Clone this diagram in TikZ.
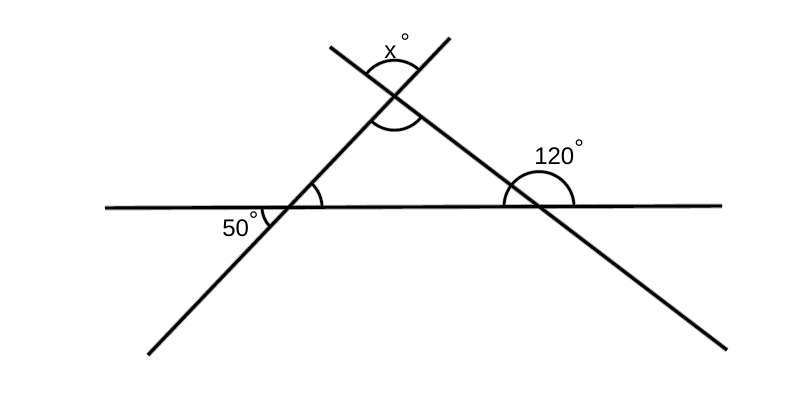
\documentclass[tikz,border=0pt]{standalone}
\usepackage{fontspec}
\setmainfont{Liberation Sans}
\newcommand{\degmark}{\raisebox{6pt}{\fontsize{18pt}{19pt}\selectfont °}}
\begin{document}
\begin{tikzpicture}[x=0.75pt,y=0.75pt,
  mainline/.style={line width=2.2pt,black},
  shadowline/.style={line width=3.6pt,black!38,shift={(2.5,-2.5)}},
  anglearc/.style={line width=1.9pt,black},
  shadowarc/.style={line width=2.8pt,black!30,shift={(2,-2)}},
  lbl/.style={inner sep=0pt,anchor=base west,font=\fontsize{18pt}{19pt}\selectfont}]
\useasboundingbox (0,0) rectangle (800,400);
\fill[white] (0,0) rectangle (800,400);
% end points
\coordinate (h1) at (105,192);
\coordinate (h2) at (722,194);
\coordinate (a1) at (148,45);
\coordinate (a2) at (450,362);
\coordinate (b1) at (330,353);
\coordinate (b2) at (727,50);
% intersections
\coordinate (T) at (394.5,303.8);
\coordinate (P) at (289,192.6);
\coordinate (Q) at (539,193.4);
% shadows
\draw[shadowline] (h1) -- (h2);
\draw[shadowline] (a1) -- (a2);
\draw[shadowline] (b1) -- (b2);
\draw[shadowarc] ([shift={(46.4:36)}]T) arc[start angle=46.4,end angle=142.65,radius=36];
\draw[shadowarc] ([shift={(226.4:34)}]T) arc[start angle=226.4,end angle=322.65,radius=34];
\draw[shadowarc] ([shift={(180:27)}]P) arc[start angle=180,end angle=226.4,radius=27];
\draw[shadowarc] ([shift={(0:33)}]P) arc[start angle=0,end angle=46.4,radius=33];
\draw[shadowarc] ([shift={(0:35)}]Q) arc[start angle=0,end angle=180,radius=35];
% lines
\draw[mainline] (h1) -- (h2);
\draw[mainline] (a1) -- (a2);
\draw[mainline] (b1) -- (b2);
% angle arcs
\draw[anglearc] ([shift={(46.4:36)}]T) arc[start angle=46.4,end angle=142.65,radius=36];
\draw[anglearc] ([shift={(226.4:34)}]T) arc[start angle=226.4,end angle=322.65,radius=34];
\draw[anglearc] ([shift={(180:27)}]P) arc[start angle=180,end angle=226.4,radius=27];
\draw[anglearc] ([shift={(0:33)}]P) arc[start angle=0,end angle=46.4,radius=33];
\draw[anglearc] ([shift={(0:35)}]Q) arc[start angle=0,end angle=180,radius=35];
% labels
\node[lbl] (lx) at (384,341) {x\,\degmark};
\node[lbl] (l50) at (222,163) {50\degmark};
\node[lbl] (l120) at (534,235) {120\degmark};
\end{tikzpicture}
\end{document}
